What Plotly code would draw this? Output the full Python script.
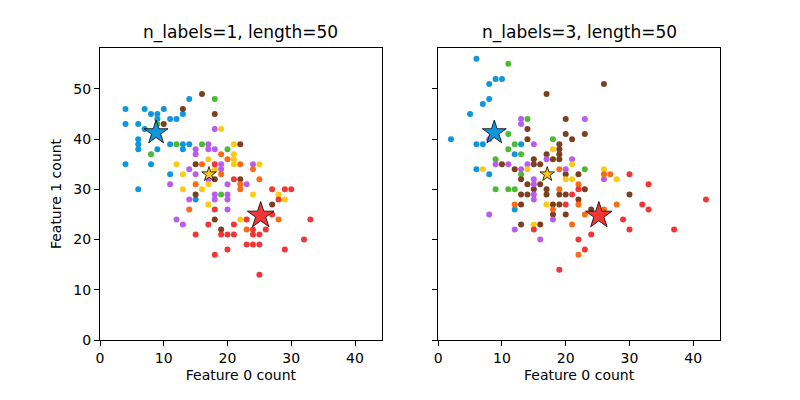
import plotly.graph_objects as go

# ---------------- data ----------------
# Left panel: n_labels=1
L_blue_x = [4, 7, 10, 8, 9, 13, 9, 11, 12, 4, 6, 7, 14, 6, 6, 6, 9, 11, 13, 14, 13, 4, 8, 11, 6, 15]
L_blue_y = [46, 46, 46, 45, 45, 45, 44, 44, 44, 43, 43, 42, 48, 40, 39, 38, 38, 39, 39, 39, 38, 35, 35, 33, 30, 28]
L_green_x = [18, 9, 8, 12, 16, 20, 19]
L_green_y = [48, 43, 37, 39, 39, 38, 29]
L_brown_x = [16, 13, 18, 10, 22, 15, 18, 22, 15, 27, 18, 19]
L_brown_y = [49, 46, 45, 43, 39, 35, 32, 32, 29, 27, 24, 22]
L_purple_x = [18, 17, 17, 18, 15, 15, 19, 19, 24, 14, 15, 17, 11, 20, 23, 14, 18, 18, 20, 20, 20, 12, 13]
L_purple_y = [42, 39, 38, 38, 38, 37, 35, 34, 35, 34, 33, 32, 31, 31, 31, 28, 29, 28, 29, 28, 26, 24, 23]
L_yellow_x = [12, 17, 19, 21, 21, 21, 21, 25, 18, 13, 13, 16, 17, 17, 24, 28, 29, 22]
L_yellow_y = [35, 36, 42, 39, 37, 36, 35, 35, 34, 33, 30, 30, 31, 27, 29, 29, 28, 24]
L_orange_x = [19, 20, 16, 22, 24, 19, 15, 22, 22, 25, 14, 28, 23]
L_orange_y = [37, 36, 35, 35, 34, 33, 31, 31, 30, 32, 26, 24, 22]
L_red_x = [18, 21, 27, 29, 30, 28, 18, 27, 33, 23, 17, 21, 24, 26, 19, 20, 21, 24, 25, 15, 32, 23, 24, 25, 20, 29, 18, 25]
L_red_y = [35, 32, 30, 30, 30, 28, 26, 25, 24, 24, 23, 23, 22, 22, 21, 21, 21, 21, 21, 21, 20, 19, 19, 19, 18, 18, 17, 13]

# Right panel: n_labels=3
R_blue_x = [6, 9, 10, 8, 8, 7, 5, 2, 6, 7, 13, 12, 6, 8, 12]
R_blue_y = [56, 52, 52, 51, 48, 47, 45, 40, 39, 39, 39, 37, 34, 33, 26]
R_green_x = [11, 14, 11, 12, 18, 11, 13, 9, 13, 23, 9, 11, 12]
R_green_y = [55, 44, 41, 39, 40, 38, 37, 36, 33, 34, 30, 30, 30]
R_brown_x = [17, 26, 20, 14, 20, 23, 21, 14, 19, 19, 19, 19, 17, 18, 10, 15, 15, 16, 12, 22, 20, 13, 14, 16,
             15, 13, 14, 17, 17, 19, 20, 23, 22, 18, 19, 13, 24, 20, 13, 16, 30, 18]
R_brown_y = [49, 51, 44, 42, 41, 41, 40, 40, 39, 38, 37, 36, 37, 36, 35, 36, 35, 35, 34, 33, 33, 32, 31, 31,
             30, 29, 29, 30, 29, 29, 29, 30, 28, 27, 27, 27, 26, 25, 23, 23, 29, 25]
R_purple_x = [13, 13, 23, 8, 15, 9, 11, 14, 17, 21, 20, 13, 15, 15, 26, 15, 15, 8, 12, 18, 16]
R_purple_y = [44, 43, 44, 40, 39, 35, 35, 35, 36, 36, 34, 34, 32, 31, 32, 29, 28, 25, 22, 24, 20]
R_yellow_x = [7, 18, 21, 14, 20, 21, 26, 28, 17, 15]
R_yellow_y = [34, 38, 35, 34, 32, 32, 34, 32, 27, 23]
R_orange_x = [19, 26, 27, 22, 19, 12, 22, 18, 28, 26, 23, 21, 22]
R_orange_y = [34, 33, 33, 31, 30, 27, 27, 26, 27, 26, 25, 23, 17]
R_red_x = [30, 33, 42, 32, 33, 29, 30, 37, 24, 22, 23, 19, 15, 21, 22, 20]
R_red_y = [33, 31, 28, 27, 26, 24, 22, 22, 21, 20, 18, 14, 22, 29, 30, 27]

# Centroids (stars), same in both panels
C_x = [8.8, 17.1, 25.2]
C_y = [41.3, 33.0, 24.8]

titles = ["n_labels=1, length=50", "n_labels=3, length=50"]
x_ticks = [0, 10, 20, 30, 40]
y_ticks = [0, 10, 20, 30, 40, 50]

# ---------------- style ----------------
COL = {
    "blue": "#0f97dd",
    "green": "#4cbb30",
    "brown": "#7d3f1e",
    "purple": "#b95df0",
    "yellow": "#fcca14",
    "orange": "#fd6a14",
    "red": "#f23535",
}
FONT = "DejaVu Sans"

fig = go.Figure()

panels = [
    ("x", "y", [(L_blue_x, L_blue_y, "blue"), (L_green_x, L_green_y, "green"),
                (L_brown_x, L_brown_y, "brown"), (L_purple_x, L_purple_y, "purple"),
                (L_yellow_x, L_yellow_y, "yellow"), (L_orange_x, L_orange_y, "orange"),
                (L_red_x, L_red_y, "red")]),
    ("x2", "y2", [(R_blue_x, R_blue_y, "blue"), (R_green_x, R_green_y, "green"),
                  (R_brown_x, R_brown_y, "brown"), (R_purple_x, R_purple_y, "purple"),
                  (R_yellow_x, R_yellow_y, "yellow"), (R_orange_x, R_orange_y, "orange"),
                  (R_red_x, R_red_y, "red")]),
]

star_cols = [COL["blue"], COL["yellow"], COL["red"]]
star_sizes = [18, 11, 20]

for xa, ya, series in panels:
    for xs, ys, c in series:
        fig.add_trace(go.Scatter(
            x=xs, y=ys, mode="markers", xaxis=xa, yaxis=ya,
            marker=dict(color=COL[c], size=6, opacity=1, line=dict(width=0)),
            showlegend=False, hoverinfo="skip"))
    fig.add_trace(go.Scatter(
        x=C_x, y=C_y, mode="markers", xaxis=xa, yaxis=ya,
        marker=dict(symbol="star", color=star_cols, size=star_sizes, opacity=1,
                    line=dict(color="black", width=0.8)),
        showlegend=False, hoverinfo="skip"))

axis_common = dict(
    showgrid=False, zeroline=False, showline=True, mirror=True,
    linecolor="black", linewidth=1, ticks="outside", ticklen=5,
    tickwidth=1, tickcolor="black", automargin=False,
    tickfont=dict(family=FONT, size=14, color="black"),
)

# page body has an 8px margin, compensate so plot areas land where the reference has them
OFF = 8
dom1 = [(100 - OFF) / 800, (381.8 - OFF) / 800]
dom2 = [(438.2 - OFF) / 800, (720 - OFF) / 800]

fig.update_layout(
    width=800, height=400,
    paper_bgcolor="white", plot_bgcolor="white",
    margin=dict(l=0, r=0, t=48 - OFF, b=60 + OFF, autoexpand=False),
    font=dict(family=FONT, color="black"),
    xaxis=dict(domain=dom1, range=[0, 44.2], tickvals=x_ticks, anchor="y",
               title=dict(text="Feature 0 count", font=dict(family=FONT, size=14), standoff=5),
               **axis_common),
    yaxis=dict(domain=[0, 1], range=[0, 58.15], tickvals=y_ticks, anchor="x",
               title=dict(text="Feature 1 count", font=dict(family=FONT, size=14), standoff=8),
               **axis_common),
    xaxis2=dict(domain=dom2, range=[0, 44.2], tickvals=x_ticks, anchor="y2",
                title=dict(text="Feature 0 count", font=dict(family=FONT, size=14), standoff=5),
                **axis_common),
    yaxis2=dict(domain=[0, 1], range=[0, 58.15], tickvals=y_ticks, anchor="x2",
                showticklabels=False, **axis_common),
    annotations=[
        dict(text=titles[0], x=(dom1[0] + dom1[1]) / 2, y=1, xref="paper", yref="paper",
             xanchor="center", yanchor="bottom", yshift=3, showarrow=False,
             font=dict(family=FONT, size=17, color="black")),
        dict(text=titles[1], x=(dom2[0] + dom2[1]) / 2, y=1, xref="paper", yref="paper",
             xanchor="center", yanchor="bottom", yshift=3, showarrow=False,
             font=dict(family=FONT, size=17, color="black")),
    ],
)

fig.write_html("out.html")
